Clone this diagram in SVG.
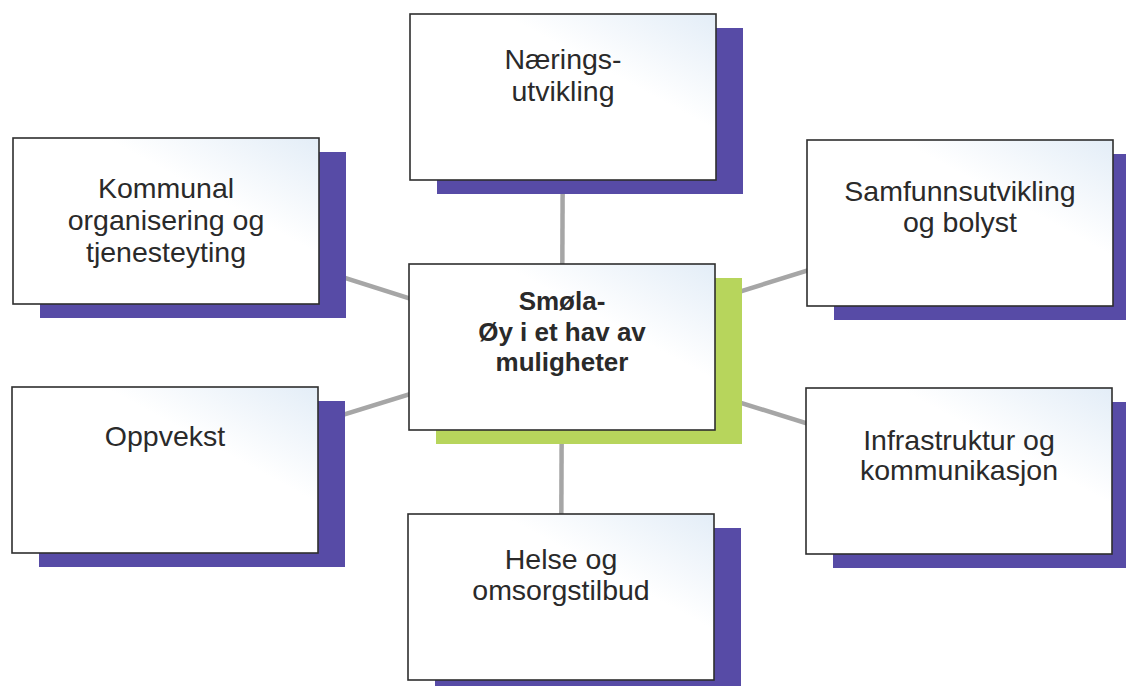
<svg xmlns="http://www.w3.org/2000/svg" width="1126" height="686" viewBox="0 0 1126 686">
<defs>
<linearGradient id="boxfill" x1="0" y1="1" x2="1" y2="0">
<stop offset="0" stop-color="#ffffff"/>
<stop offset="0.65" stop-color="#ffffff"/>
<stop offset="1" stop-color="#e3edf7"/>
</linearGradient>
<style>
.box{fill:url(#boxfill);stroke:#2e2e2e;stroke-width:1.6}
.sh{fill:#574ba6}
.shg{fill:#b7d55c}
.t{font-family:"Liberation Sans",Arial,sans-serif;font-size:28.5px;fill:#2a2a2a;text-anchor:middle}
.tb{font-family:"Liberation Sans",Arial,sans-serif;font-size:26px;font-weight:bold;fill:#2a2a2a;text-anchor:middle}
.c{stroke:#a6a6a6;stroke-width:4.5;fill:none}
</style>
</defs>
<rect width="1126" height="686" fill="#ffffff"/>
<g id="connectors">
<line class="c" x1="562" y1="347" x2="563" y2="97"/>
<line class="c" x1="562" y1="347" x2="166" y2="221"/>
<line class="c" x1="562" y1="347" x2="960" y2="223"/>
<line class="c" x1="562" y1="347" x2="165" y2="470"/>
<line class="c" x1="562" y1="347" x2="959" y2="471"/>
<line class="c" x1="562" y1="347" x2="561" y2="597"/>
</g>
<g id="node-naering">
<rect class="sh" x="437" y="28" width="306" height="166"/>
<rect class="box" x="410" y="14" width="306" height="166"/>
<text class="t" x="563" y="69">Nærings-</text>
<text class="t" x="563" y="101">utvikling</text>
</g>
<g id="node-kommunal">
<rect class="sh" x="40" y="152" width="306" height="166"/>
<rect class="box" x="13" y="138" width="306" height="166"/>
<text class="t" x="166" y="198">Kommunal</text>
<text class="t" x="166" y="230">organisering og</text>
<text class="t" x="166" y="262">tjenesteyting</text>
</g>
<g id="node-samfunn">
<rect class="sh" x="834" y="154" width="306" height="166"/>
<rect class="box" x="807" y="140" width="306" height="166"/>
<text class="t" x="960" y="201">Samfunnsutvikling</text>
<text class="t" x="960" y="232">og bolyst</text>
</g>
<g id="node-center">
<rect class="shg" x="436" y="278" width="306" height="166"/>
<rect class="box" x="409" y="264" width="306" height="166"/>
<text class="tb" x="562" y="310">Smøla-</text>
<text class="tb" x="562" y="341">Øy i et hav av</text>
<text class="tb" x="562" y="371">muligheter</text>
</g>
<g id="node-oppvekst">
<rect class="sh" x="39" y="401" width="306" height="166"/>
<rect class="box" x="12" y="387" width="306" height="166"/>
<text class="t" x="165" y="446">Oppvekst</text>
</g>
<g id="node-infra">
<rect class="sh" x="833" y="402" width="306" height="166"/>
<rect class="box" x="806" y="388" width="306" height="166"/>
<text class="t" x="959" y="450">Infrastruktur og</text>
<text class="t" x="959" y="480">kommunikasjon</text>
</g>
<g id="node-helse">
<rect class="sh" x="435" y="528" width="306" height="166"/>
<rect class="box" x="408" y="514" width="306" height="166"/>
<text class="t" x="561" y="569">Helse og</text>
<text class="t" x="561" y="600">omsorgstilbud</text>
</g>
</svg>
